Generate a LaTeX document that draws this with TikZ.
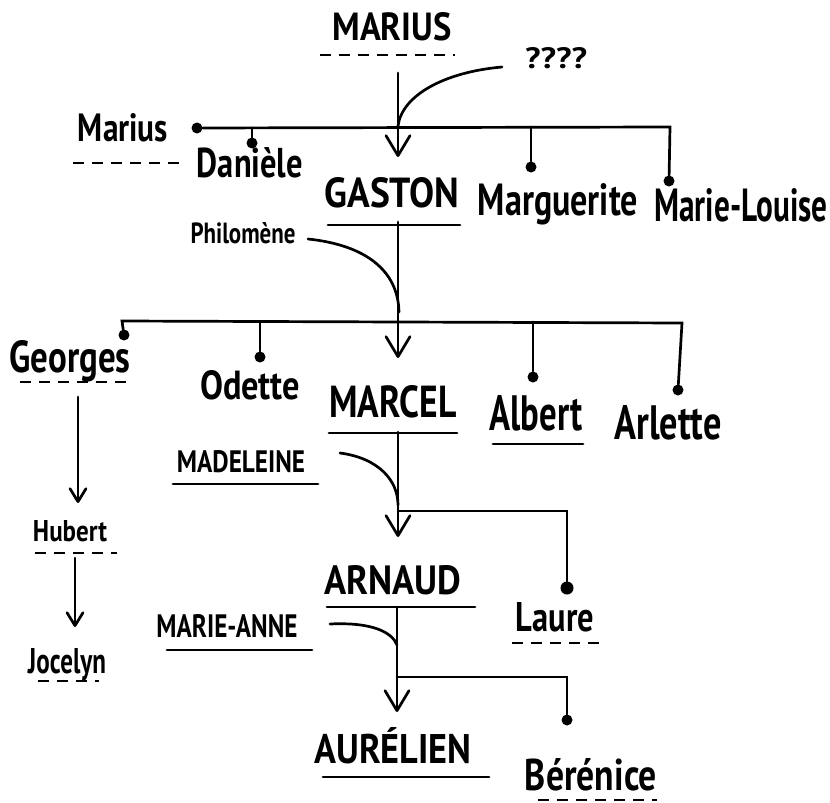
\documentclass[tikz,border=0pt]{standalone}
\usepackage{fontspec}
\setmainfont{PT Sans}
\usepackage{graphicx}
\usetikzlibrary{arrows.meta}
\newcommand{\nm}[3]{\resizebox{#1pt}{#2pt}{#3}}
\tikzset{
  ln/.style={line width=2.7pt, line cap=round},
  ul/.style={line width=2.9pt, line cap=round},
  dul/.style={line width=2.8pt, dash pattern=on 11pt off 8pt},
  bigarr/.style={ln, -{Straight Barb[length=20pt,width=24pt,round]}},
  smallarr/.style={ln, -{Straight Barb[length=13pt,width=16pt,round]}},
  person/.style={anchor=base, inner sep=0pt, font=\bfseries},
  dotc/.style={circle, fill, inner sep=0pt, minimum size=11pt},
}
\begin{document}
\begin{tikzpicture}[x=1pt,y=-1pt]
\useasboundingbox (0,0) rectangle (830,803);

% ---------- names ----------
\node[person] (marius)   at (392,40)  {\nm{119}{28}{MARIUS}};
\node[person] (unknown)  at (556,68)  {\nm{62}{21}{????}};
\node[person] (mariusb)  at (123,141) {\nm{90}{28}{Marius}};
\node[person] (daniele)  at (250,177) {\nm{106}{30}{Danièle}};
\node[person] (gaston)   at (392,207) {\nm{135}{30}{GASTON}};
\node[person] (marguer)  at (558,215) {\nm{160}{32}{Marguerite}};
\node[person] (marielou) at (741,221) {\nm{173}{33}{Marie-Louise}};
\node[person] (philo)    at (243,243) {\nm{105}{21}{Philomène}};
\node[person] (georges)  at (70,372)  {\nm{121}{32}{Georges}};
\node[person] (odette)   at (250,399) {\nm{100}{29}{Odette}};
\node[person] (marcel)   at (393,417) {\nm{127}{32}{MARCEL}};
\node[person] (albert)   at (536,430) {\nm{93}{35}{Albert}};
\node[person] (arlette)  at (668,439) {\nm{107}{34}{Arlette}};
\node[person] (madel)    at (241,472) {\nm{128}{22}{MADELEINE}};
\node[person] (hubert)   at (70,541)  {\nm{74}{21}{Hubert}};
\node[person] (arnaud)   at (393,594) {\nm{137}{29}{ARNAUD}};
\node[person] (laure)    at (555,631) {\nm{78}{29}{Laure}};
\node[person] (marieann) at (227,637) {\nm{141}{23}{MARIE-ANNE}};
\node[person] (jocelyn)  at (67,673)  {\nm{78}{25}{Jocelyn}};
\node[person] (aurelien) at (393,763) {\nm{157}{36}{AURÉLIEN}};
\node[person] (berenice) at (591,790) {\nm{132}{32}{Bérénice}};

% ---------- underlines ----------
\draw[dul] (320,55) -- (455,55);
\draw[dul] (73,163) -- (182,163);
\draw[ul]  (328,225) -- (460,225);
\draw[dul] (20,382) -- (132,382);
\draw[ul]  (329,433) -- (457,433);
\draw[ul]  (493,444) -- (583,444);
\draw[ul]  (173,484) -- (318,484);
\draw[dul] (35,553) -- (117,553);
\draw[ul]  (327,607) -- (475,607);
\draw[ul]  (167,650) -- (312,650);
\draw[dul] (38,681) -- (99,681);
\draw[dul] (512,643) -- (603,643);
\draw[ul]  (323,777) -- (489,777);
\draw[dul] (538,800) -- (657,800);

% ---------- generation 1 : Marius ----------
\node[dotc] (dmar) at (197,128) {};
\node[dotc] (ddan) at (252,143) {};
\node[dotc] (dmag) at (531,167) {};
\node[dotc] (dmlo) at (669,181) {};
\coordinate (r1d) at (252,128);
\coordinate (r1m) at (531,127);
\coordinate (r1r) at (670,127);
\draw[ln] (dmar) -- (r1r) -- (dmlo);
\draw[ln] (r1d) -- (ddan);
\draw[ln] (r1m) -- (dmag);
\coordinate (a1s) at (398,73);
\coordinate (a1e) at (398,157);
\draw[bigarr] (a1s) -- (a1e);
\coordinate (q1) at (502,67);
\coordinate (q1j) at (398,126);
\draw[ln] (q1) .. controls (445,72) and (402,95) .. (q1j);

% ---------- generation 2 : Gaston ----------
\node[dotc] (dgeo) at (124,335) {};
\node[dotc] (dode) at (260,357) {};
\node[dotc] (dalb) at (533,377) {};
\node[dotc] (darl) at (678,390) {};
\coordinate (r2l) at (122,321);
\coordinate (r2o) at (260,322);
\coordinate (r2a) at (533,322);
\coordinate (r2r) at (682,323);
\draw[ln] (dgeo) -- (r2l) -- (r2r) -- (darl);
\draw[ln] (r2o) -- (dode);
\draw[ln] (r2a) -- (dalb);
\coordinate (a2s) at (398,222);
\coordinate (a2e) at (398,358);
\draw[bigarr] (a2s) -- (a2e);
\coordinate (p1) at (308,239);
\coordinate (p1j) at (399,312);
\draw[ln] (p1) .. controls (365,245) and (398,270) .. (p1j);

% Georges line
\coordinate (g1s) at (78,397);
\coordinate (g1e) at (78,503);
\draw[smallarr] (g1s) -- (g1e);
\coordinate (h1s) at (75,558);
\coordinate (h1e) at (75,627);
\draw[smallarr] (h1s) -- (h1e);

% ---------- generation 3 : Marcel ----------
\coordinate (a3s) at (398,432);
\coordinate (a3e) at (398,537);
\draw[bigarr] (a3s) -- (a3e);
\node[dotc, minimum size=13pt] (dlau) at (567,588) {};
\coordinate (r3l) at (398,511);
\coordinate (r3r) at (567,511);
\draw[ln] (r3l) -- (r3r) -- (dlau);
\coordinate (m1) at (340,453);
\coordinate (m1j) at (398,505);
\draw[ln] (m1) .. controls (378,458) and (398,480) .. (m1j);

% ---------- generation 4 : Arnaud ----------
\coordinate (a4s) at (397,607);
\coordinate (a4e) at (397,712);
\draw[bigarr] (a4s) -- (a4e);
\node[dotc] (dber) at (567,720) {};
\coordinate (r4l) at (397,677);
\coordinate (r4r) at (567,677);
\draw[ln] (r4l) -- (r4r) -- (dber);
\coordinate (m2) at (330,624);
\coordinate (m2j) at (397,645);
\draw[ln] (m2) .. controls (372,622) and (392,632) .. (m2j);
\end{tikzpicture}
\end{document}
